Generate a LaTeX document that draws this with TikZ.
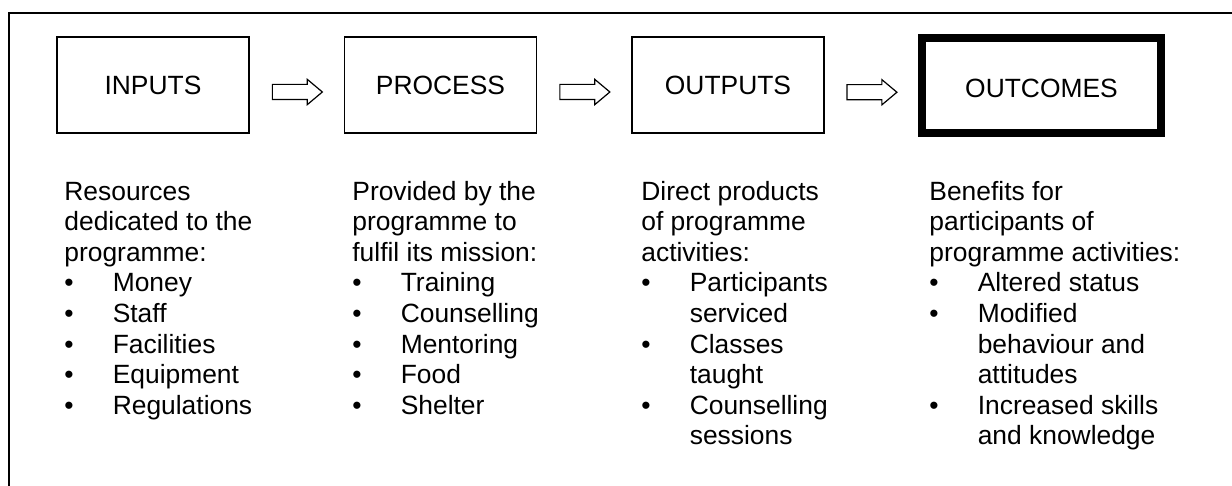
\documentclass[tikz,border=0pt]{standalone}
\usepackage{fontspec}
\setmainfont{Liberation Sans}
\usetikzlibrary{shapes.arrows,calc}

\newcommand{\itm}[1]{\makebox[24.2pt][l]{\textbullet}#1}
\newcommand{\cont}[1]{\hspace*{24.2pt}#1}

\begin{document}
\begin{tikzpicture}[
  x = 0.5pt,
  y = -0.5pt,
  stage/.style = {
    shape = rectangle,
    draw,
    line width = 0.6pt,
    minimum width = 96pt,
    minimum height = 48pt,
    inner sep = 0pt,
    font = \fontsize{13.2}{15.3}\selectfont
  },
  blockarrow/.style = {
    shape = single arrow,
    draw,
    anchor = tail,
    line width = 0.6pt,
    minimum height = 25pt,
    minimum width = 12pt,
    single arrow head extend = 2.5pt,
    single arrow tip angle = 80,
    single arrow head indent = 0pt,
    inner xsep = 0pt,
    inner ysep = 3.5pt
  },
  column/.style = {
    anchor = base west,
    align = left,
    inner sep = 0pt,
    font = \fontsize{13.2}{15.3}\selectfont
  }
]
  \useasboundingbox (0, 0) rectangle (1232, 486);
  \clip (0, 0) rectangle (1232, 486);
  \draw[line width = 0.65pt] (9, 13) rectangle (1260, 520);

  \node[stage] (inputs) at (153, 85) {INPUTS};
  \node[stage] (process) at (440.5, 85) {PROCESS};
  \node[stage] (outputs) at (728, 85) {OUTPUTS};
  \node[stage, line width = 4pt, minimum width = 119.5pt, minimum height = 47.5pt] (outcomes) at (1041.5, 85.5) {\raisebox{-1.5pt}[\height][\depth]{OUTCOMES}};

  \node[blockarrow] (a1) at ($(inputs.east)!0.5!(process.west) + (-25, 7)$) {};
  \node[blockarrow] (a2) at ($(process.east)!0.5!(outputs.west) + (-25, 7)$) {};
  \node[blockarrow] (a3) at ($(outputs.east)!0.5!(outcomes.west) + (-25, 7)$) {};

  % base = last line
  \node[column] (inputtext) at (64, 414.2) {Resources\\dedicated to the\\programme:\\
    \itm{Money}\\\itm{Staff}\\\itm{Facilities}\\\itm{Equipment}\\\itm{Regulations}};
  \node[column] (processtext) at (352, 414.2) {Provided by the\\programme to\\fulfil its mission:\\
    \itm{Training}\\\itm{Counselling}\\\itm{Mentoring}\\\itm{Food}\\\itm{Shelter}};
  \node[column] (outputtext) at (641, 444.8) {Direct products\\of programme\\activities:\\
    \itm{Participants}\\\cont{serviced}\\\itm{Classes}\\\cont{taught}\\\itm{Counselling}\\\cont{sessions}};
  \node[column] (outcometext) at (929, 444.8) {Benefits for\\participants of\\programme activities:\\
    \itm{Altered status}\\\itm{Modified}\\\cont{behaviour and}\\\cont{attitudes}\\\itm{Increased skills}\\\cont{and knowledge}};
\end{tikzpicture}
\end{document}
